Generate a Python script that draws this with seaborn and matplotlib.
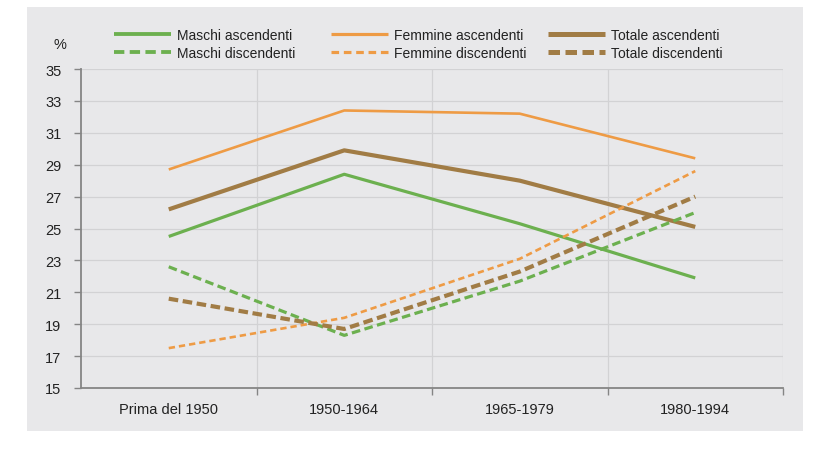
import matplotlib
matplotlib.use("Agg")
import matplotlib.pyplot as plt
import seaborn as sns
import pandas as pd
from matplotlib.patches import Rectangle
from matplotlib.ticker import FixedLocator

categories = ["Prima del 1950", "1950-1964", "1965-1979", "1980-1994"]
maschi_asc = [24.5, 28.4, 25.3, 21.9]
femmine_asc = [28.7, 32.4, 32.2, 29.4]
totale_asc = [26.2, 29.9, 28.0, 25.1]
maschi_disc = [22.6, 18.3, 21.7, 26.0]
femmine_disc = [17.5, 19.4, 23.1, 28.6]
totale_disc = [20.6, 18.7, 22.3, 27.0]

series_names = ["Maschi ascendenti", "Femmine ascendenti", "Totale ascendenti",
                "Maschi discendenti", "Femmine discendenti", "Totale discendenti"]
series_values = [maschi_asc, femmine_asc, totale_asc, maschi_disc, femmine_disc, totale_disc]

green = "#6cb04f"
orange = "#ee9b45"
brown = "#a17c45"
styles = {
    "Maschi ascendenti": dict(color=green, lw=2.3, dashes=None),
    "Femmine ascendenti": dict(color=orange, lw=1.9, dashes=None),
    "Totale ascendenti": dict(color=brown, lw=3.0, dashes=None),
    "Maschi discendenti": dict(color=green, lw=2.3, dashes=(2.7, 1.4)),
    "Femmine discendenti": dict(color=orange, lw=1.9, dashes=(2.4, 1.5)),
    "Totale discendenti": dict(color=brown, lw=3.0, dashes=(2.3, 1.1)),
}

sns.set_theme(style="white")
plt.rcParams["font.family"] = ["Liberation Sans", "DejaVu Sans"]

fig = plt.figure(figsize=(8.25, 4.6), dpi=100)
fig.patch.set_facecolor("white")
panel = Rectangle((27 / 825, 1 - 432 / 460), (803 - 27) / 825, (432 - 8) / 460,
                  transform=fig.transFigure, facecolor="#e8e8ea", edgecolor="none", zorder=-5)
fig.patches.append(panel)

ax = fig.add_axes([81 / 825, 1 - 389 / 460, (783 - 81) / 825, (389 - 70) / 460])
ax.set_zorder(2)
ax.set_facecolor("#e8e8ea")

handles = []
for name, vals in zip(series_names, series_values):
    df = pd.DataFrame({"cat": categories, "val": vals})
    st = styles[name]
    sns.lineplot(data=df, x="cat", y="val", ax=ax, color=st["color"], linewidth=st["lw"],
                 sort=False, label=name)
    line = ax.get_lines()[-1]
    if st["dashes"] is not None:
        line.set_dashes(st["dashes"])
    line.set_solid_capstyle("butt")
    line.set_dash_capstyle("butt")
    handles.append(line)

if ax.get_legend():
    ax.get_legend().remove()

ax.set_xlim(-0.5, 3.5)
ax.set_ylim(15, 35)
ax.set_yticks(range(15, 36, 2))
ax.set_xticks(range(4))
ax.set_xticklabels(categories)
ax.xaxis.set_minor_locator(FixedLocator([0.5, 1.5, 2.5, 3.5]))
ax.set_xlabel("")
ax.set_ylabel("")

ax.grid(axis="y", which="major", color="#d2d2d4", lw=0.9)
ax.grid(axis="x", which="minor", color="#d2d2d4", lw=0.9)
ax.set_axisbelow(True)

for s in ["top", "right"]:
    ax.spines[s].set_visible(False)
for s in ["left", "bottom"]:
    ax.spines[s].set_visible(True)
    ax.spines[s].set_color("#858585")
    ax.spines[s].set_linewidth(1.3)

ax.tick_params(axis="y", which="major", direction="out", length=5, width=1, color="#858585",
               left=True, labelsize=10.5, labelcolor="#222222", pad=9)
ax.tick_params(axis="x", which="major", length=0, labelsize=10.5, labelcolor="#222222", pad=10)
ax.tick_params(axis="x", which="minor", direction="out", length=5, width=1, color="#858585", bottom=True)

fig.text(60 / 825, 1 - 45 / 460, "%", fontsize=10.5, color="#222222", ha="center", va="center")

# three legend columns, each with ascending / descending entries
col_x = [114, 331, 548]
for c in range(3):
    hs = [handles[c], handles[c + 3]]
    labs = [series_names[c], series_names[c + 3]]
    leg = fig.legend(hs, labs, loc="center left", bbox_to_anchor=(col_x[c] / 825, 1 - 45 / 460),
                     frameon=False, fontsize=10, handlelength=4.1, handletextpad=0.45,
                     labelspacing=0.3, borderpad=0, borderaxespad=0)
    for t in leg.get_texts():
        t.set_color("#222222")
    for l in leg.get_lines():
        l.set_linewidth(l.get_linewidth() * 1.2)

fig.savefig("out.png", dpi=100, facecolor="white")
